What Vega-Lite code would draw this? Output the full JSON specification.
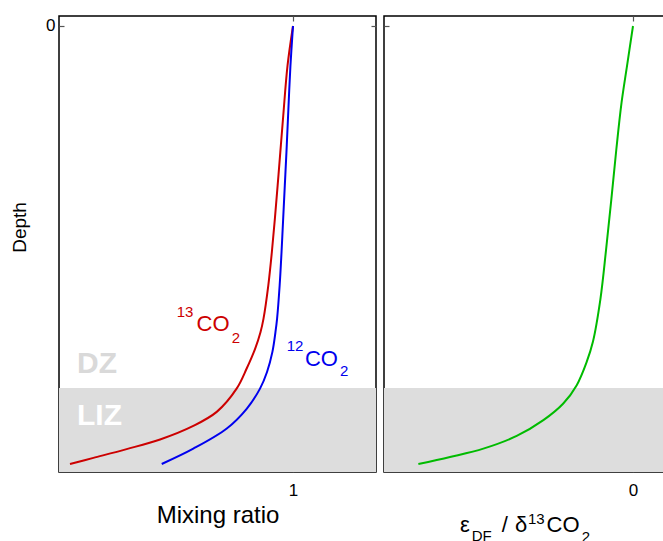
{
  "$schema": "https://vega.github.io/schema/vega-lite/v6.json",
  "padding": {"left": 9, "top": 14, "right": 0, "bottom": 0},
  "spacing": 4,
  "config": {
    "font": "Liberation Sans",
    "view": {"stroke": "black", "strokeWidth": 1.5},
    "axis": {
      "grid": false,
      "domain": false,
      "tickSize": -5,
      "tickColor": "#555555",
      "tickWidth": 1.2,
      "labelFont": "Liberation Sans",
      "labelFontSize": 17,
      "labelColor": "black",
      "titleFont": "Liberation Sans",
      "titleFontWeight": "normal",
      "titleColor": "black"
    }
  },
  "datasets": {
    "profiles": [
      {"species": "13CO2", "x": 0.047, "depth": 1.0},
      {"species": "13CO2", "x": 0.147, "depth": 0.986},
      {"species": "13CO2", "x": 0.289, "depth": 0.966},
      {"species": "13CO2", "x": 0.432, "depth": 0.944},
      {"species": "13CO2", "x": 0.574, "depth": 0.913},
      {"species": "13CO2", "x": 0.674, "depth": 0.881},
      {"species": "13CO2", "x": 0.759, "depth": 0.828},
      {"species": "13CO2", "x": 0.802, "depth": 0.782},
      {"species": "13CO2", "x": 0.838, "depth": 0.737},
      {"species": "13CO2", "x": 0.861, "depth": 0.699},
      {"species": "13CO2", "x": 0.874, "depth": 0.668},
      {"species": "13CO2", "x": 0.8945, "depth": 0.592},
      {"species": "13CO2", "x": 0.9097, "depth": 0.516},
      {"species": "13CO2", "x": 0.9226, "depth": 0.44},
      {"species": "13CO2", "x": 0.9344, "depth": 0.364},
      {"species": "13CO2", "x": 0.9458, "depth": 0.288},
      {"species": "13CO2", "x": 0.9583, "depth": 0.205},
      {"species": "13CO2", "x": 0.9765, "depth": 0.091},
      {"species": "13CO2", "x": 1.0, "depth": 0.0},
      {"species": "12CO2", "x": 0.439, "depth": 1.0},
      {"species": "12CO2", "x": 0.574, "depth": 0.965},
      {"species": "12CO2", "x": 0.717, "depth": 0.919},
      {"species": "12CO2", "x": 0.802, "depth": 0.874},
      {"species": "12CO2", "x": 0.859, "depth": 0.828},
      {"species": "12CO2", "x": 0.889, "depth": 0.79},
      {"species": "12CO2", "x": 0.912, "depth": 0.744},
      {"species": "12CO2", "x": 0.925, "depth": 0.699},
      {"species": "12CO2", "x": 0.932, "depth": 0.668},
      {"species": "12CO2", "x": 0.943, "depth": 0.592},
      {"species": "12CO2", "x": 0.951, "depth": 0.516},
      {"species": "12CO2", "x": 0.958, "depth": 0.44},
      {"species": "12CO2", "x": 0.965, "depth": 0.364},
      {"species": "12CO2", "x": 0.972, "depth": 0.288},
      {"species": "12CO2", "x": 0.979, "depth": 0.205},
      {"species": "12CO2", "x": 0.989, "depth": 0.091},
      {"species": "12CO2", "x": 1.0, "depth": 0.0}
    ],
    "fractionation": [
      {"x": -0.862, "depth": 1.0},
      {"x": -0.735, "depth": 0.984},
      {"x": -0.601, "depth": 0.965},
      {"x": -0.467, "depth": 0.936},
      {"x": -0.36, "depth": 0.9},
      {"x": -0.28, "depth": 0.862},
      {"x": -0.226, "depth": 0.82},
      {"x": -0.186, "depth": 0.767},
      {"x": -0.161, "depth": 0.721},
      {"x": -0.131, "depth": 0.624},
      {"x": -0.108, "depth": 0.51},
      {"x": -0.087, "depth": 0.396},
      {"x": -0.067, "depth": 0.282},
      {"x": -0.046, "depth": 0.175},
      {"x": -0.024, "depth": 0.091},
      {"x": 0.0, "depth": 0.0}
    ],
    "zones": [
      {"zone": "LIZ", "top": 0.8265, "bottom": 1.0183}
    ],
    "zoneLabels": [
      {"zone": "DZ", "x": 0.077, "depth": 0.792},
      {"zone": "LIZ", "x": 0.077, "depth": 0.911}
    ],
    "speciesLabels": [
      {"species": "13CO2", "piece": "13", "part": "script", "x": 0.503, "depth": 0.664},
      {"species": "13CO2", "piece": "CO", "part": "base", "x": 0.588, "depth": 0.696},
      {"species": "13CO2", "piece": "2", "part": "script", "x": 0.738, "depth": 0.724},
      {"species": "12CO2", "piece": "12", "part": "script", "x": 0.973, "depth": 0.741},
      {"species": "12CO2", "piece": "CO", "part": "base", "x": 1.051, "depth": 0.777},
      {"species": "12CO2", "piece": "2", "part": "script", "x": 1.201, "depth": 0.799}
    ],
    "deltaTitle": [
      {"piece": "ε", "part": "base", "x": -0.695, "depth": 1.155},
      {"piece": "DF", "part": "script", "x": -0.648, "depth": 1.175},
      {"piece": "/", "part": "base", "x": -0.527, "depth": 1.155},
      {"piece": "δ", "part": "base", "x": -0.474, "depth": 1.155},
      {"piece": "13", "part": "script", "x": -0.422, "depth": 1.138},
      {"piece": "CO", "part": "base", "x": -0.347, "depth": 1.155},
      {"piece": "2", "part": "script", "x": -0.206, "depth": 1.179}
    ]
  },
  "hconcat": [
    {
      "width": 317,
      "height": 456,
      "resolve": {"axis": {"x": "independent", "y": "independent"}},
      "layer": [
        {
          "data": {"name": "zones"},
          "mark": {"type": "rect", "color": "#dddddd"},
          "encoding": {
            "y": {"field": "top", "type": "quantitative", "scale": {"domain": [-0.0228, 1.0183], "reverse": true, "nice": false, "zero": false}, "axis": null},
            "y2": {"field": "bottom"}
          }
        },
        {
          "data": {"name": "profiles"},
          "mark": {"type": "line", "strokeWidth": 2, "interpolate": "catmull-rom"},
          "encoding": {
            "x": {"field": "x", "type": "quantitative", "scale": {"domain": [0, 1.3547], "nice": false, "zero": false},
                  "axis": {"orient": "bottom", "values": [1], "title": "Mixing ratio", "titleFontSize": 24, "labelPadding": 15, "titlePadding": 5}},
            "y": {"field": "depth", "type": "quantitative", "scale": {"domain": [-0.0228, 1.0183], "reverse": true, "nice": false, "zero": false},
                  "axis": {"orient": "left", "values": [0], "title": "Depth", "titleFontSize": 19, "titleY": 211, "labelPadding": 9, "titlePadding": 16}},
            "color": {"field": "species", "type": "nominal", "scale": {"domain": ["13CO2", "12CO2"], "range": ["#cc0000", "#0000ee"]}, "legend": null},
            "order": {"field": "depth", "sort": "descending"}
          }
        },
        {
          "data": {"name": "zoneLabels"},
          "mark": {"type": "text", "align": "left", "baseline": "alphabetic", "fontSize": 30, "fontWeight": "bold"},
          "encoding": {
            "x": {"field": "x", "type": "quantitative", "axis": {"orient": "top", "values": [1], "labels": false, "title": null}},
            "y": {"field": "depth", "type": "quantitative", "axis": {"orient": "right", "values": [0], "labels": false, "title": null}},
            "text": {"field": "zone"},
            "color": {"condition": {"test": "datum.zone === 'DZ'", "value": "#d9d9d9"}, "value": "#ffffff"}
          }
        },
        {
          "data": {"name": "speciesLabels"},
          "transform": [{"filter": "datum.part === 'base'"}],
          "mark": {"type": "text", "align": "left", "baseline": "alphabetic", "fontSize": 22},
          "encoding": {
            "x": {"field": "x", "type": "quantitative", "axis": null},
            "y": {"field": "depth", "type": "quantitative", "axis": null},
            "text": {"field": "piece"},
            "color": {"field": "species", "type": "nominal", "legend": null}
          }
        },
        {
          "data": {"name": "speciesLabels"},
          "transform": [{"filter": "datum.part === 'script'"}],
          "mark": {"type": "text", "align": "left", "baseline": "alphabetic", "fontSize": 15},
          "encoding": {
            "x": {"field": "x", "type": "quantitative", "axis": null},
            "y": {"field": "depth", "type": "quantitative", "axis": null},
            "text": {"field": "piece"},
            "color": {"field": "species", "type": "nominal", "legend": null}
          }
        }
      ]
    },
    {
      "width": 317,
      "height": 456,
      "resolve": {"axis": {"x": "independent", "y": "independent"}},
      "layer": [
        {
          "data": {"name": "zones"},
          "mark": {"type": "rect", "color": "#dddddd"},
          "encoding": {
            "y": {"field": "top", "type": "quantitative", "scale": {"domain": [-0.0228, 1.0183], "reverse": true, "nice": false, "zero": false}, "axis": null},
            "y2": {"field": "bottom"}
          }
        },
        {
          "data": {"name": "fractionation"},
          "mark": {"type": "line", "strokeWidth": 2, "color": "#00bb00", "interpolate": "catmull-rom"},
          "encoding": {
            "x": {"field": "x", "type": "quantitative", "scale": {"domain": [-1, 0.2731], "nice": false, "zero": false},
                  "axis": {"orient": "bottom", "values": [0], "title": null, "labelPadding": 15}},
            "y": {"field": "depth", "type": "quantitative", "scale": {"domain": [-0.0228, 1.0183], "reverse": true, "nice": false, "zero": false},
                  "axis": {"orient": "left", "values": [0], "labels": false, "title": null}},
            "order": {"field": "depth", "sort": "descending"}
          }
        },
        {
          "data": {"name": "deltaTitle"},
          "transform": [{"filter": "datum.part === 'base'"}],
          "mark": {"type": "text", "align": "left", "baseline": "alphabetic", "fontSize": 22, "color": "black"},
          "encoding": {
            "x": {"field": "x", "type": "quantitative", "axis": {"orient": "top", "values": [0], "labels": false, "title": null}},
            "y": {"field": "depth", "type": "quantitative", "axis": {"orient": "right", "values": [0], "labels": false, "title": null}},
            "text": {"field": "piece"}
          }
        },
        {
          "data": {"name": "deltaTitle"},
          "transform": [{"filter": "datum.part === 'script'"}],
          "mark": {"type": "text", "align": "left", "baseline": "alphabetic", "fontSize": 15, "color": "black"},
          "encoding": {
            "x": {"field": "x", "type": "quantitative", "axis": null},
            "y": {"field": "depth", "type": "quantitative", "axis": null},
            "text": {"field": "piece"}
          }
        }
      ]
    }
  ]
}
